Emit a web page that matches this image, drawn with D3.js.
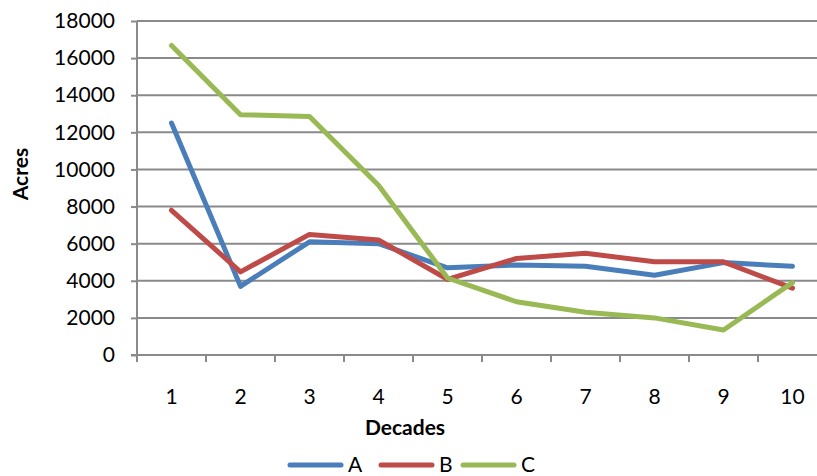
<!DOCTYPE html>
<html>
<head>
<meta charset="utf-8">
<script src="https://cdn.jsdelivr.net/npm/d3@7"></script>
<style>
  html, body { margin: 0; padding: 0; background: #fff; }
  svg { display: block; }
  text { font-family: Lato, "Open Sans", sans-serif; fill: #000; }
</style>
</head>
<body>
<svg id="chart" width="817" height="476"></svg>
<script>
// Acreage per decade for three series
const decades = [1, 2, 3, 4, 5, 6, 7, 8, 9, 10];
const seriesA = [12500, 3700, 6100, 6000, 4700, 4850, 4780, 4300, 4980, 4780];
const seriesB = [7800, 4480, 6500, 6200, 4080, 5200, 5480, 5020, 5020, 3600];
const seriesC = [16680, 12950, 12850, 9150, 4150, 2870, 2300, 2000, 1350, 3900];
const yTicks = [0, 2000, 4000, 6000, 8000, 10000, 12000, 14000, 16000, 18000];

const series = [
  { name: "A", values: seriesA, color: "#4a7ebb" },
  { name: "B", values: seriesB, color: "#be4b48" },
  { name: "C", values: seriesC, color: "#98b954" }
];

const svg = d3.select("#chart");
const plot = { left: 137, right: 827, top: 21, bottom: 355 };

const x = d3.scaleBand().domain(decades).range([plot.left, plot.right]);
const y = d3.scaleLinear().domain([0, 18000]).range([plot.bottom, plot.top]);

const gridColor = "#8a8a8a";
const fontSize = "21px";

// horizontal gridlines
svg.append("g")
  .selectAll("line")
  .data(yTicks.filter(d => d > 0))
  .join("line")
  .attr("x1", plot.left).attr("x2", plot.right)
  .attr("y1", d => y(d)).attr("y2", d => y(d))
  .attr("stroke", gridColor).attr("stroke-width", 2);

// y axis
const yAxis = svg.append("g")
  .attr("transform", `translate(${plot.left},0)`)
  .call(d3.axisLeft(y).tickValues(yTicks).tickSize(6).tickPadding(16).tickFormat(d3.format("d")));
yAxis.select(".domain").attr("stroke", gridColor).attr("stroke-width", 2)
  .attr("d", `M0,${plot.top}V${plot.bottom}`);
yAxis.selectAll(".tick line").attr("stroke", gridColor).attr("stroke-width", 2);
yAxis.selectAll(".tick text").style("font-size", fontSize).style("font-family", "Lato, sans-serif").attr("fill", "#000");

// x axis with tick marks on band boundaries
const xAxisG = svg.append("g").attr("transform", `translate(0,${plot.bottom})`);
xAxisG.append("line")
  .attr("x1", plot.left - 6).attr("x2", plot.right)
  .attr("stroke", gridColor).attr("stroke-width", 2);
const boundaries = decades.map(d => x(d));
xAxisG.selectAll("line.tick")
  .data(boundaries)
  .join("line")
  .attr("class", "tick")
  .attr("x1", d => d).attr("x2", d => d)
  .attr("y1", 0).attr("y2", 7)
  .attr("stroke", gridColor).attr("stroke-width", 2);
xAxisG.selectAll("text")
  .data(decades)
  .join("text")
  .attr("x", d => x(d) + x.bandwidth() / 2)
  .attr("y", 49)
  .attr("text-anchor", "middle")
  .style("font-size", fontSize)
  .text(d => d);

// series lines
const line = d3.line()
  .x((d, i) => x(decades[i]) + x.bandwidth() / 2)
  .y(d => y(d));

svg.append("g")
  .selectAll("path")
  .data(series)
  .join("path")
  .attr("d", s => line(s.values))
  .attr("fill", "none")
  .attr("stroke", s => s.color)
  .attr("stroke-width", 5)
  .attr("stroke-linejoin", "round")
  .attr("stroke-linecap", "round");

// axis titles
svg.append("text")
  .attr("transform", "translate(28,174) rotate(-90)")
  .attr("text-anchor", "middle")
  .style("font-size", fontSize).style("font-weight", "bold")
  .text("Acres");

svg.append("text")
  .attr("x", 405).attr("y", 435)
  .attr("text-anchor", "middle")
  .style("font-size", fontSize).style("font-weight", "bold")
  .text("Decades");

// legend
const legendX = [290, 381, 463];
const legend = svg.append("g")
  .selectAll("g")
  .data(series)
  .join("g")
  .attr("transform", (d, i) => `translate(${legendX[i]},465)`);
legend.append("line")
  .attr("x1", 0).attr("x2", 51)
  .attr("stroke", d => d.color).attr("stroke-width", 5)
  .attr("stroke-linecap", "round");
legend.append("text")
  .attr("x", 58).attr("y", 7)
  .style("font-size", fontSize)
  .text(d => d.name);
</script>
</body>
</html>
